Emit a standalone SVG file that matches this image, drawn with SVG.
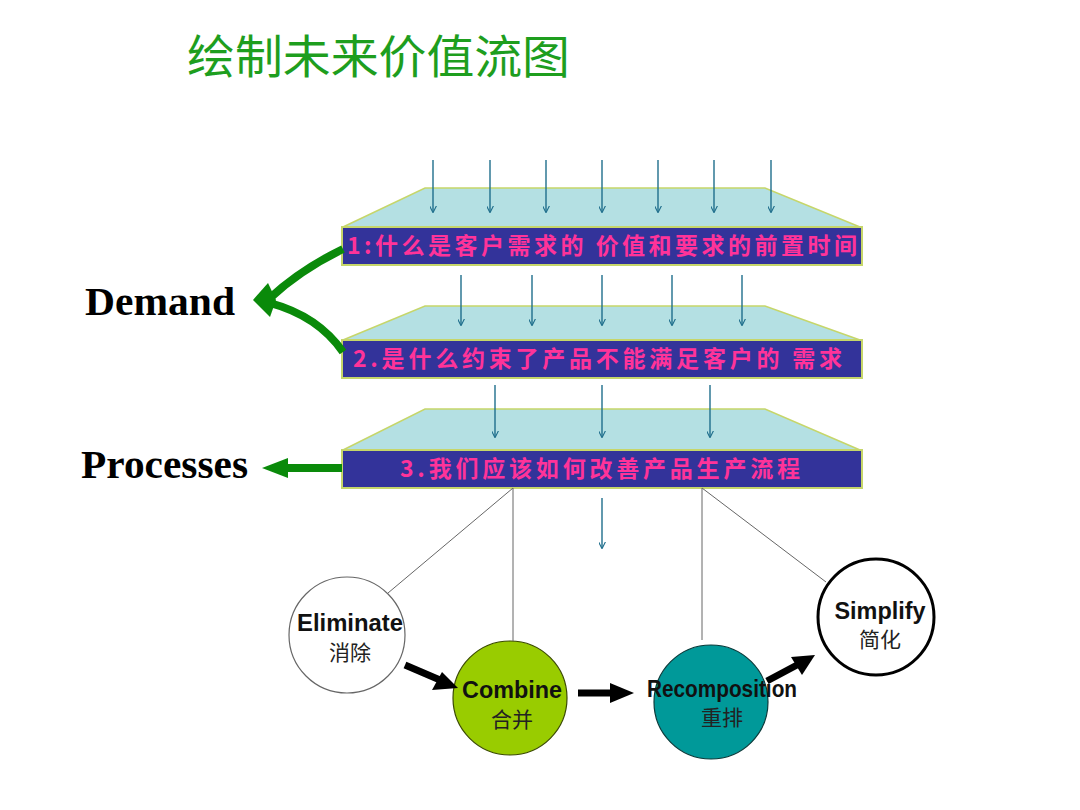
<svg xmlns="http://www.w3.org/2000/svg" width="1080" height="810" viewBox="0 0 1080 810">
<defs>
<marker id="blueArr" viewBox="0 0 10 10" refX="9" refY="5" markerWidth="7" markerHeight="7" orient="auto" markerUnits="userSpaceOnUse">
<path d="M0,0 L10,5 L0,10" fill="none" stroke="#1f6e8c" stroke-width="1.6"/>
</marker>
<style>
.trap{fill:#b4e0e3;stroke:#c6d66a;stroke-width:1.5}
.bar{fill:#33339a;stroke:#c6d66a;stroke-width:2}
.bt{font-family:"Noto Sans CJK SC","Noto Sans",sans-serif;font-size:23px;font-weight:bold;fill:#ff3399}
.ba{stroke:#1f6e8c;stroke-width:1.4;fill:none;marker-end:url(#blueArr)}
.thin{stroke:#666;stroke-width:1;fill:none}
.green{stroke:#0a8a0a;stroke-width:8;fill:none}
.blk{stroke:#000;stroke-width:7;fill:none}
.lbl{font-family:"Liberation Serif",serif;font-weight:bold;font-size:41px;fill:#000}
.en{font-family:"Liberation Sans",Arial,sans-serif;font-weight:bold;font-size:23px;fill:#111;text-anchor:middle}
.zh{font-family:"Noto Sans CJK SC",sans-serif;font-size:21px;fill:#222;text-anchor:middle}
</style>
</defs>
<rect width="1080" height="810" fill="#fff"/>
<text x="187" y="73" font-family="Noto Sans CJK SC,sans-serif" font-size="46" fill="#1e9e1e" textLength="383" lengthAdjust="spacingAndGlyphs">绘制未来价值流图</text>

<g id="layer1">
<polygon class="trap" points="425,188 765,188 860,227 343,227"/>
<rect class="bar" x="342" y="227" width="520" height="38"/>
<text class="bt" x="347" y="254" textLength="510" lengthAdjust="spacing">1:什么是客户需求的 价值和要求的前置时间</text>
</g>
<g id="layer2">
<polygon class="trap" points="425,306 765,306 860,340 343,340"/>
<rect class="bar" x="342" y="340" width="520" height="38"/>
<text class="bt" x="353" y="367" textLength="489" lengthAdjust="spacing">2.是什么约束了产品不能满足客户的 需求</text>
</g>
<g id="layer3">
<polygon class="trap" points="425,409 765,409 860,450 343,450"/>
<rect class="bar" x="342" y="450" width="520" height="38"/>
<text class="bt" x="400" y="477" textLength="400" lengthAdjust="spacing">3.我们应该如何改善产品生产流程</text>
</g>

<g id="demand">
<text class="lbl" x="85" y="315" textLength="150" lengthAdjust="spacingAndGlyphs">Demand</text>
</g>
<g id="processes">
<text class="lbl" x="81" y="478" textLength="167" lengthAdjust="spacingAndGlyphs">Processes</text>
</g>

<g id="eliminate">
<circle cx="347" cy="635" r="58" fill="#fff" stroke="#666" stroke-width="1.2"/>
<text class="en" x="350" y="631" textLength="106" lengthAdjust="spacingAndGlyphs">Eliminate</text>
<text class="zh" x="350" y="660">消除</text>
</g>
<g id="combine">
<circle cx="510" cy="698" r="57" fill="#99cc00" stroke="#3a4a00" stroke-width="1.2"/>
<text class="en" x="512" y="698" textLength="100" lengthAdjust="spacingAndGlyphs">Combine</text>
<text class="zh" x="512" y="727">合并</text>
</g>
<g id="recomposition">
<circle cx="711" cy="702" r="57" fill="#009999" stroke="#0a3a3a" stroke-width="1.2"/>
<text class="en" x="722" y="697" textLength="150" lengthAdjust="spacingAndGlyphs">Recomposition</text>
<text class="zh" x="722" y="725">重排</text>
</g>
<g id="simplify">
<circle cx="876" cy="617" r="58" fill="#fff" stroke="#000" stroke-width="3"/>
<text class="en" x="880" y="619" textLength="91" lengthAdjust="spacingAndGlyphs">Simplify</text>
<text class="zh" x="880" y="647">简化</text>
</g>

<g id="connectors">
<line class="ba" x1="433" y1="160" x2="433" y2="212"/>
<line class="ba" x1="490" y1="160" x2="490" y2="212"/>
<line class="ba" x1="546" y1="160" x2="546" y2="212"/>
<line class="ba" x1="602" y1="160" x2="602" y2="212"/>
<line class="ba" x1="658" y1="160" x2="658" y2="212"/>
<line class="ba" x1="714" y1="160" x2="714" y2="212"/>
<line class="ba" x1="771" y1="160" x2="771" y2="212"/>

<line class="ba" x1="461" y1="275" x2="461" y2="325"/>
<line class="ba" x1="532" y1="275" x2="532" y2="325"/>
<line class="ba" x1="602" y1="275" x2="602" y2="325"/>
<line class="ba" x1="672" y1="275" x2="672" y2="325"/>
<line class="ba" x1="742" y1="275" x2="742" y2="325"/>

<line class="ba" x1="495" y1="385" x2="495" y2="437"/>
<line class="ba" x1="602" y1="385" x2="602" y2="437"/>
<line class="ba" x1="710" y1="385" x2="710" y2="437"/>

<line class="ba" x1="602" y1="498" x2="602" y2="548"/>

<path class="green" d="M343,249 Q300,270 270,298"/>
<path class="green" d="M343,352 Q318,316 270,303"/>
<polygon points="253,300 268,283 276,300 270,317" fill="#0a8a0a"/>
<line class="green" x1="342" y1="468" x2="282" y2="468"/>
<polygon points="262,468 288,458 288,478" fill="#0a8a0a"/>

<line class="thin" x1="513" y1="488" x2="388" y2="593"/>
<line class="thin" x1="513" y1="488" x2="513" y2="641"/>
<line class="thin" x1="702" y1="488" x2="702" y2="640"/>
<line class="thin" x1="702" y1="488" x2="826" y2="582"/>

<line class="blk" x1="405" y1="665" x2="440" y2="680"/>
<polygon points="458,688 432,690 442,672" fill="#000"/>
<line class="blk" x1="578" y1="693" x2="612" y2="693"/>
<polygon points="634,693 610,683 610,703" fill="#000"/>
<line class="blk" x1="767" y1="681" x2="797" y2="665"/>
<polygon points="815,655 802,675 791,657" fill="#000"/>
</g>
</svg>
